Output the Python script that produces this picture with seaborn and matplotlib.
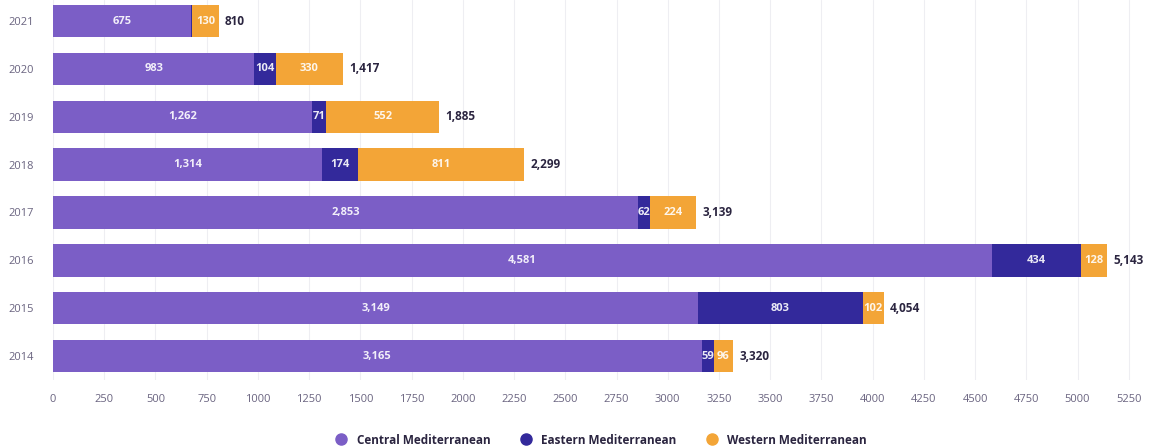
import matplotlib
matplotlib.use("Agg")
import matplotlib.pyplot as plt
from matplotlib.lines import Line2D
import seaborn as sns
import pandas as pd

years = ["2021", "2020", "2019", "2018", "2017", "2016", "2015", "2014"]
central = [675, 983, 1262, 1314, 2853, 4581, 3149, 3165]
eastern = [5, 104, 71, 174, 62, 434, 803, 59]
western = [130, 330, 552, 811, 224, 128, 102, 96]
totals = [810, 1417, 1885, 2299, 3139, 5143, 4054, 3320]
ticks = list(range(0, 5501, 250))

c_central = "#7b5ec6"
c_eastern = "#33299b"
c_western = "#f3a537"
txt_dark = "#2b2540"
tick_col = "#6a6480"

df = pd.DataFrame({"year": years, "central": central, "eastern": eastern, "western": western})
df["ce"] = df["central"] + df["eastern"]
df["all"] = df["ce"] + df["western"]

sns.set_style("white")
plt.rcParams["font.family"] = ["Open Sans", "DejaVu Sans"]

fig = plt.figure(figsize=(11.67, 4.48), dpi=100)
ax = fig.add_axes([53 / 1167, 68 / 448, 1127 / 1167, 380 / 448])

# stacked bars: draw cumulative totals back to front
w = 0.68
for col, c in (("all", c_western), ("ce", c_eastern), ("central", c_central)):
    sns.barplot(data=df, y="year", x=col, order=years, color=c, width=w,
                saturation=1, linewidth=0, ax=ax, orient="h")

for i, r in df.iterrows():
    segs = [(0, r["central"]), (r["central"], r["eastern"]), (r["ce"], r["western"])]
    for start, val in segs:
        if val < 20:
            continue
        ax.text(start + val / 2, i, f"{val:,}", ha="center", va="center",
                color="white", fontsize=8, fontweight="bold", alpha=0.9)
    ax.text(r["all"] + 30, i, f"{totals[i]:,}", ha="left", va="center",
            color=txt_dark, fontsize=8.5, fontweight="bold")

ax.set_xlim(0, 5500)
ax.set_ylim(7.5, -0.44)
ax.set_xticks(ticks)
ax.set_xticklabels([str(t) for t in ticks], fontsize=8, color=tick_col)
ax.tick_params(axis="y", labelsize=8, labelcolor=tick_col, length=0, pad=14)
ax.tick_params(axis="x", length=0, pad=10)
ax.set_xlabel("")
ax.set_ylabel("")
ax.grid(axis="x", color="#eeeef2", linewidth=0.8)
ax.set_axisbelow(True)
sns.despine(ax=ax, left=True, bottom=True)

handles = [Line2D([], [], marker="o", linestyle="", markersize=8, color=c)
           for c in (c_central, c_eastern, c_western)]
leg = fig.legend(handles, ["Central Mediterranean", "Eastern Mediterranean", "Western Mediterranean"],
                 loc="center", bbox_to_anchor=(598 / 1167, 8 / 448), ncol=3, frameon=False,
                 handletextpad=0.3, columnspacing=2.0, prop={"size": 8.5, "weight": "bold"})
for t in leg.get_texts():
    t.set_color(txt_dark)

fig.savefig("out.png", dpi=100)
